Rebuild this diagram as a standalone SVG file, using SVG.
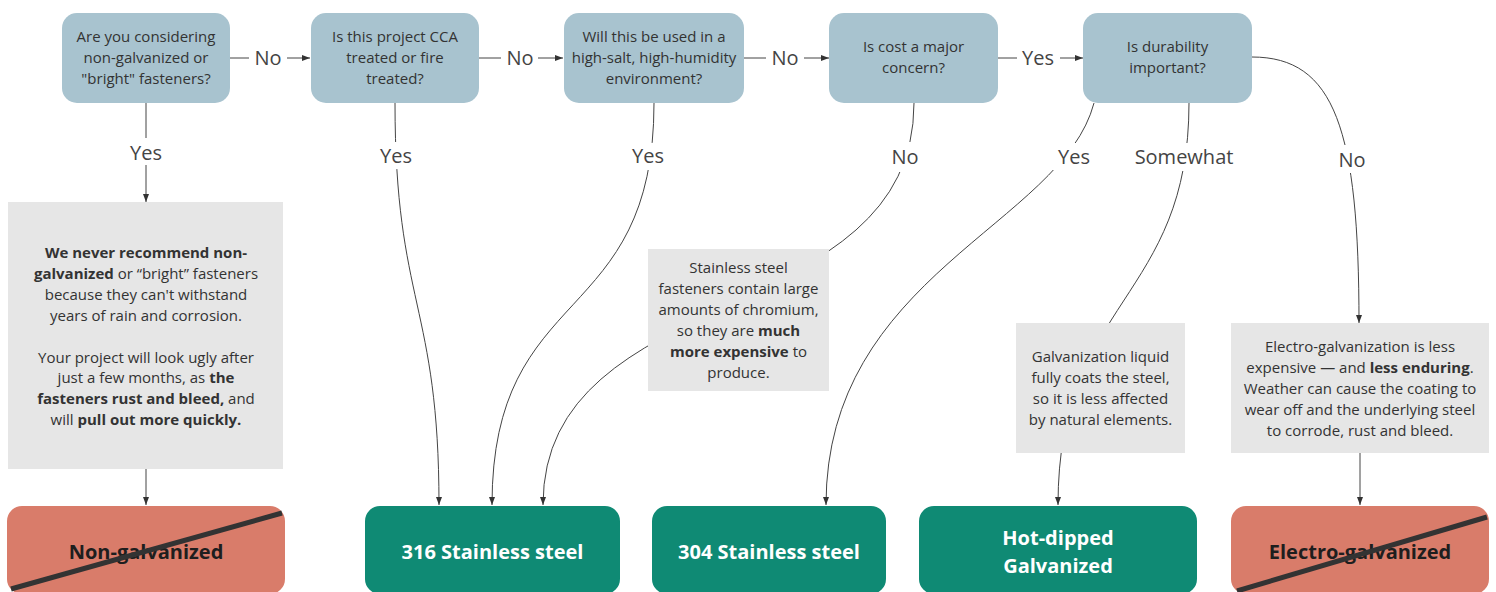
<svg xmlns="http://www.w3.org/2000/svg" width="1496" height="592" viewBox="0 0 1496 592">
<defs>
<style>
.q{fill:#a8c3cf}
.qt{font-family:"Open Sans","Noto Sans",sans-serif;font-size:15px;fill:#333;text-anchor:middle}
.note{fill:#e6e6e6}
.nt{font-family:"Open Sans","Noto Sans",sans-serif;font-size:15px;fill:#333;text-anchor:middle}
.b{font-weight:bold}
.ok{fill:#0f8a74}
.bad{fill:#d97c6a}
.rt{font-family:"Open Sans","Noto Sans",sans-serif;font-size:20px;font-weight:bold;text-anchor:middle}
.okt{fill:#ffffff}
.badt{fill:#1e1e1e}
.strike{stroke:#333;stroke-width:5;stroke-linecap:butt}
.c{fill:none;stroke:#444;stroke-width:1}
.lbl{font-family:"Open Sans","Noto Sans",sans-serif;font-size:20px;fill:#444;text-anchor:middle}
.lb{fill:#ffffff}
</style>
<marker id="ah" viewBox="0 0 8 8" markerWidth="8" markerHeight="8" refX="8" refY="4" orient="auto" markerUnits="userSpaceOnUse">
<path d="M0,1 L8,4 L0,7 z" fill="#333"/>
</marker>
</defs>
<rect x="0" y="0" width="1496" height="592" fill="#ffffff"/>

<g id="connectors">
<path class="c" d="M230,58 H310" marker-end="url(#ah)"/>
<path class="c" d="M479,58 H563" marker-end="url(#ah)"/>
<path class="c" d="M744,58 H829" marker-end="url(#ah)"/>
<path class="c" d="M998,58 H1083" marker-end="url(#ah)"/>
<path class="c" d="M146,103 V202" marker-end="url(#ah)"/>
<path class="c" d="M146,469 V505" marker-end="url(#ah)"/>
<path class="c" d="M395,103 C395,304 439,304 439,505" marker-end="url(#ah)"/>
<path class="c" d="M654,103 C654,330 492,280 492,505" marker-end="url(#ah)"/>
<path class="c" d="M914,103 C914,330 543,280 543,505" marker-end="url(#ah)"/>
<path class="c" d="M1094,103 C1062,225 826,275 826,505" marker-end="url(#ah)"/>
<path class="c" d="M1189,103 C1189,300 1058,300 1058,505" marker-end="url(#ah)"/>
<path class="c" d="M1252,57 C1335,57 1359,130 1359,323" marker-end="url(#ah)"/>
<path class="c" d="M1360,453 V505" marker-end="url(#ah)"/>
<rect class="lb" x="249" y="46" width="38" height="24"/>
<rect class="lb" x="501" y="46" width="37" height="24"/>
<rect class="lb" x="766" y="46" width="38" height="24"/>
<rect class="lb" x="1017" y="46" width="43" height="24"/>
<rect class="lb" x="125" y="138" width="42" height="27"/>
<rect class="lb" x="375" y="142" width="42" height="27"/>
<rect class="lb" x="627" y="143" width="42" height="27"/>
<rect class="lb" x="886" y="142" width="38" height="30"/>
<rect class="lb" x="1053" y="143" width="42" height="27"/>
<rect class="lb" x="1131" y="143" width="106" height="28"/>
<rect class="lb" x="1333" y="145" width="38" height="28"/>
<text class="lbl" x="268" y="65">No</text>
<text class="lbl" x="520" y="65">No</text>
<text class="lbl" x="785" y="65">No</text>
<text class="lbl" x="1038" y="65">Yes</text>
<text class="lbl" x="146" y="160">Yes</text>
<text class="lbl" x="396" y="163">Yes</text>
<text class="lbl" x="648" y="163">Yes</text>
<text class="lbl" x="905" y="164">No</text>
<text class="lbl" x="1074" y="164">Yes</text>
<text class="lbl" x="1184" y="164">Somewhat</text>
<text class="lbl" x="1352" y="167">No</text>
</g>

<g id="q1">
<rect class="q" x="62" y="13" width="168" height="90" rx="15"/>
<text class="qt" x="146" y="42">Are you considering</text>
<text class="qt" x="146" y="63">non-galvanized or</text>
<text class="qt" x="146" y="84">"bright" fasteners?</text>
</g>
<g id="q2">
<rect class="q" x="311" y="13" width="168" height="90" rx="15"/>
<text class="qt" x="395" y="42">Is this project CCA</text>
<text class="qt" x="395" y="63">treated or fire</text>
<text class="qt" x="395" y="84">treated?</text>
</g>
<g id="q3">
<rect class="q" x="564" y="13" width="180" height="90" rx="15"/>
<text class="qt" x="654" y="42">Will this be used in a</text>
<text class="qt" x="654" y="63">high-salt, high-humidity</text>
<text class="qt" x="654" y="84">environment?</text>
</g>
<g id="q4">
<rect class="q" x="829" y="13" width="169" height="90" rx="15"/>
<text class="qt" x="913.5" y="52">Is cost a major</text>
<text class="qt" x="913.5" y="73">concern?</text>
</g>
<g id="q5">
<rect class="q" x="1083" y="13" width="169" height="90" rx="15"/>
<text class="qt" x="1167.5" y="52">Is durability</text>
<text class="qt" x="1167.5" y="73">important?</text>
</g>

<g id="note1">
<rect class="note" x="8" y="202" width="275" height="267"/>
<text class="nt" x="146" y="258"><tspan class="b">We never recommend non-</tspan></text>
<text class="nt" x="146" y="279"><tspan class="b">galvanized</tspan> or “bright” fasteners</text>
<text class="nt" x="146" y="300">because they can't withstand</text>
<text class="nt" x="146" y="321">years of rain and corrosion.</text>
<text class="nt" x="146" y="363">Your project will look ugly after</text>
<text class="nt" x="146" y="383">just a few months, as <tspan class="b">the</tspan></text>
<text class="nt" x="146" y="404"><tspan class="b">fasteners rust and bleed,</tspan> and</text>
<text class="nt" x="146" y="425">will <tspan class="b">pull out more quickly.</tspan></text>
</g>
<g id="note2">
<rect class="note" x="648" y="249" width="181" height="142"/>
<text class="nt" x="738.5" y="273">Stainless steel</text>
<text class="nt" x="738.5" y="294">fasteners contain large</text>
<text class="nt" x="738.5" y="315">amounts of chromium,</text>
<text class="nt" x="738.5" y="336">so they are <tspan class="b">much</tspan></text>
<text class="nt" x="738.5" y="357"><tspan class="b">more expensive</tspan> to</text>
<text class="nt" x="738.5" y="378">produce.</text>
</g>
<g id="note3">
<rect class="note" x="1016" y="323" width="169" height="130"/>
<text class="nt" x="1100.5" y="362">Galvanization liquid</text>
<text class="nt" x="1100.5" y="383">fully coats the steel,</text>
<text class="nt" x="1100.5" y="404">so it is less affected</text>
<text class="nt" x="1100.5" y="425">by natural elements.</text>
</g>
<g id="note4">
<rect class="note" x="1231" y="323" width="258" height="130"/>
<text class="nt" x="1360" y="352">Electro-galvanization is less</text>
<text class="nt" x="1360" y="373">expensive — and <tspan class="b">less enduring</tspan>.</text>
<text class="nt" x="1360" y="394">Weather can cause the coating to</text>
<text class="nt" x="1360" y="415">wear off and the underlying steel</text>
<text class="nt" x="1360" y="436">to corrode, rust and bleed.</text>
</g>

<g id="r-nongalv">
<rect class="bad" x="7" y="506" width="278" height="88" rx="15"/>
<text class="rt badt" x="146" y="559">Non-galvanized</text>
<line class="strike" x1="11" y1="589" x2="282" y2="513"/>
</g>
<g id="r-316">
<rect class="ok" x="365" y="506" width="255" height="88" rx="15"/>
<text class="rt okt" x="492.5" y="559">316 Stainless steel</text>
</g>
<g id="r-304">
<rect class="ok" x="652" y="506" width="234" height="88" rx="15"/>
<text class="rt okt" x="769" y="559">304 Stainless steel</text>
</g>
<g id="r-hdg">
<rect class="ok" x="919" y="506" width="278" height="88" rx="15"/>
<text class="rt okt" x="1058" y="545">Hot-dipped</text>
<text class="rt okt" x="1058" y="573">Galvanized</text>
</g>
<g id="r-electro">
<rect class="bad" x="1231" y="506" width="258" height="88" rx="15"/>
<text class="rt badt" x="1360" y="559">Electro-galvanized</text>
<line class="strike" x1="1237" y1="591" x2="1487" y2="517"/>
</g>
</svg>
